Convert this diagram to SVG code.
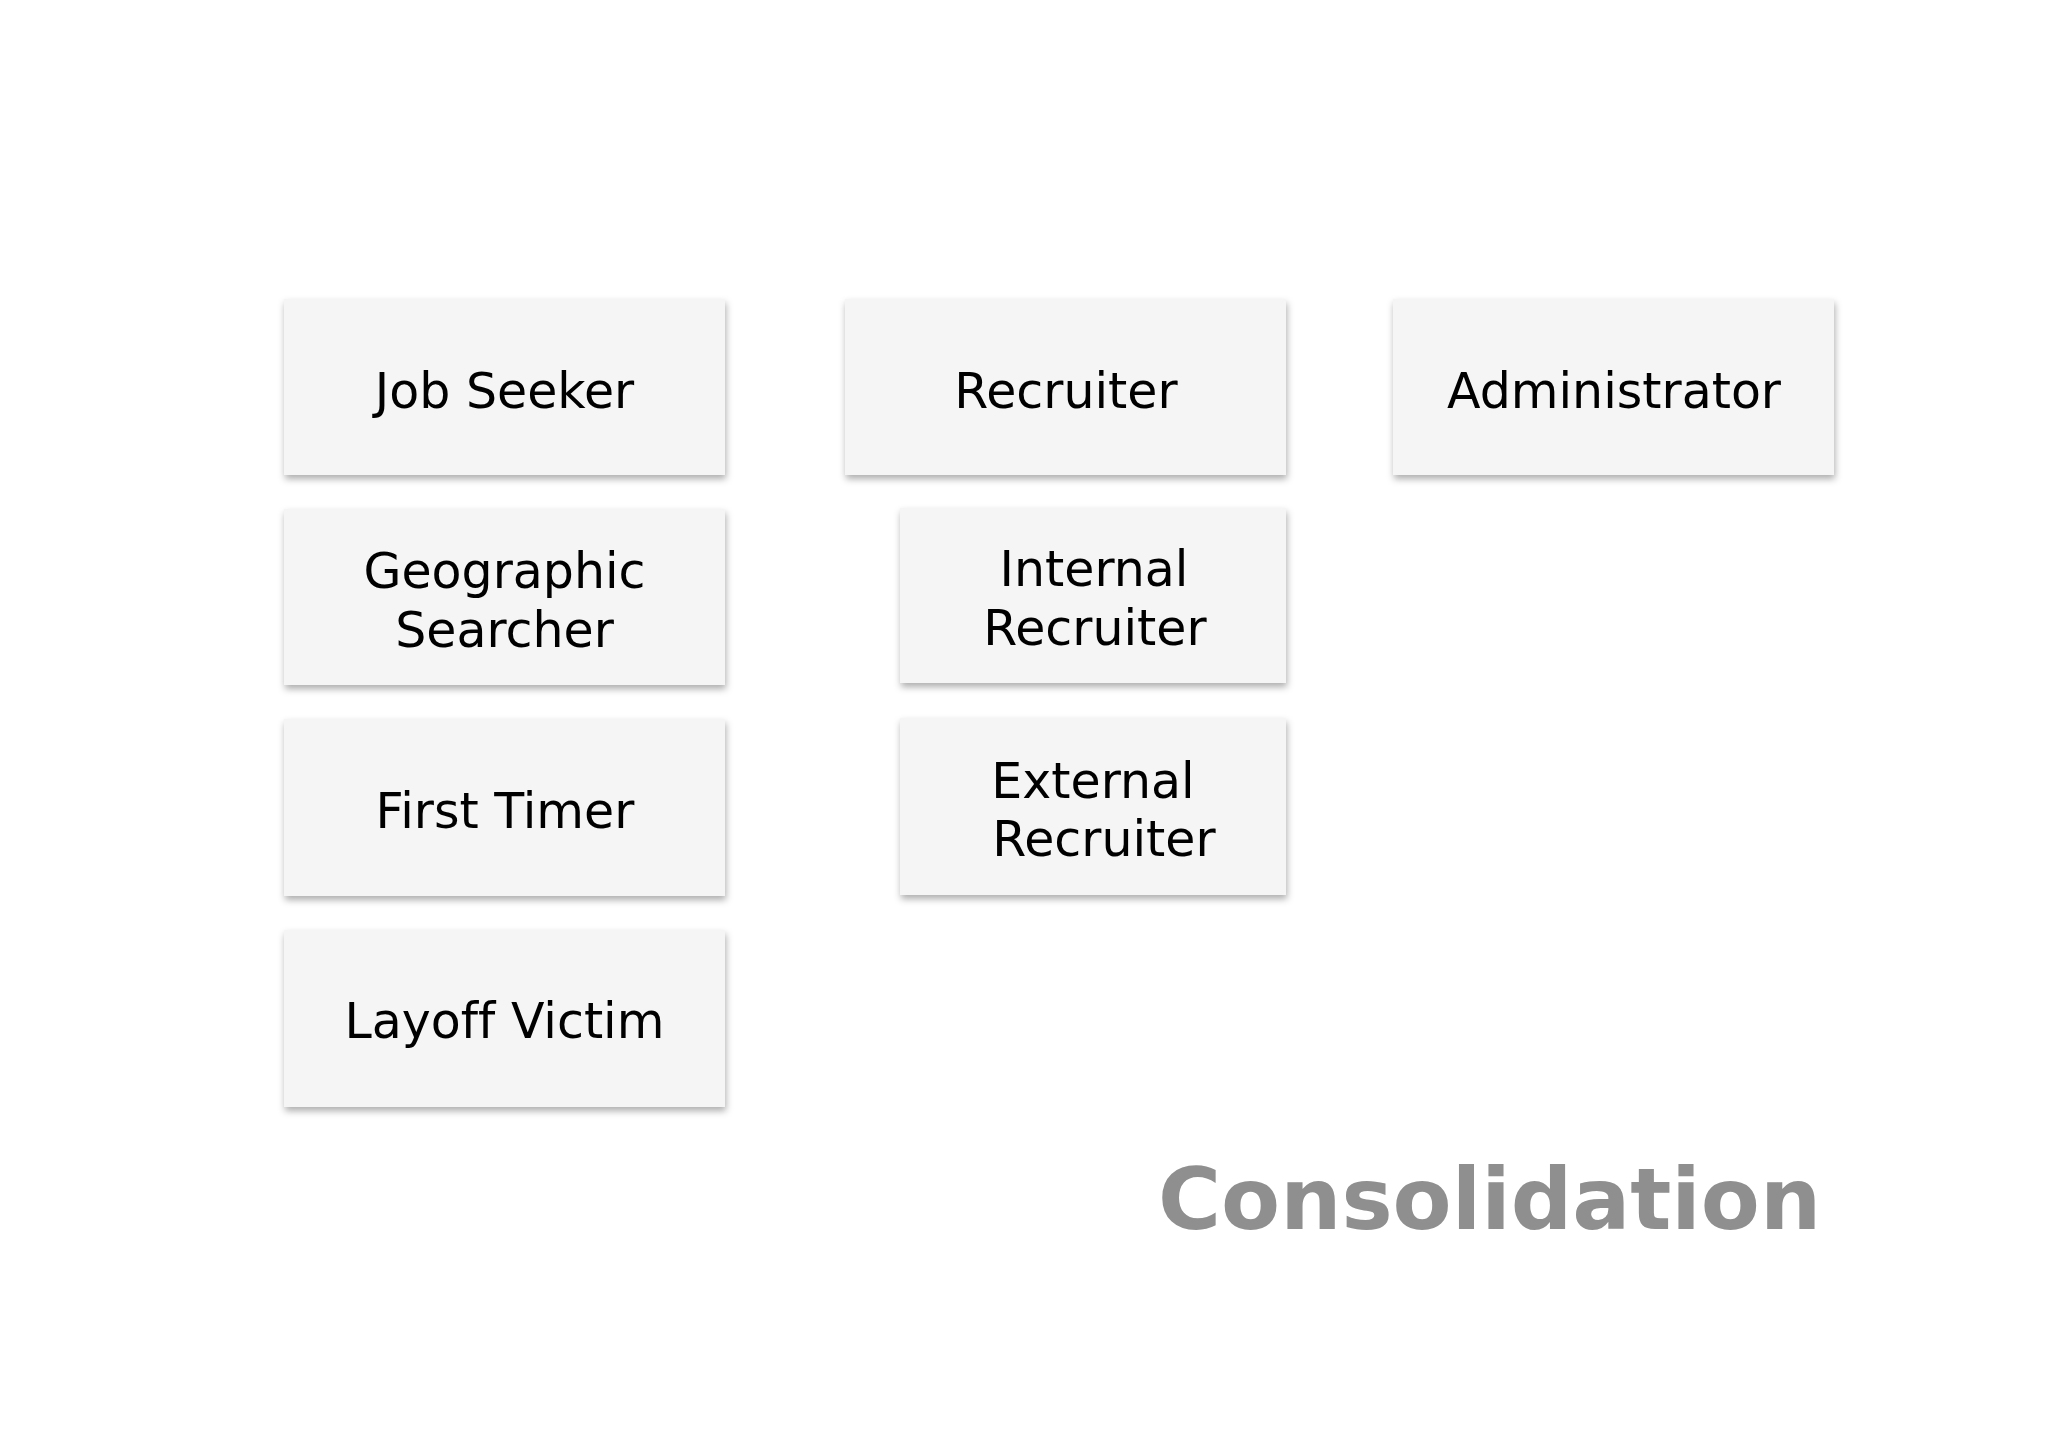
<svg xmlns="http://www.w3.org/2000/svg" width="2048" height="1447" viewBox="0 0 2048 1447">
<defs>
<filter id="sh" x="-10%" y="-10%" width="120%" height="130%">
<feDropShadow dx="1" dy="4" stdDeviation="3.5" flood-color="#000" flood-opacity="0.32"/>
</filter>
</defs>
<style>
.box{fill:#f5f5f5;filter:url(#sh)}
.lbl{font-family:"DejaVu Sans","Verdana",sans-serif;font-size:49px;fill:#000;text-anchor:middle;font-variant-ligatures:none}
.title{font-family:"DejaVu Sans","Verdana",sans-serif;font-size:86px;font-weight:bold;fill:#8f8f8f}
</style>
<rect width="2048" height="1447" fill="#fff"/>
<g id="connectors"/>
<g id="job-seeker"><rect class="box" x="284" y="299" width="441" height="176"/><text class="lbl" x="504.5" y="408">Job Seeker</text></g>
<g id="recruiter"><rect class="box" x="845" y="299" width="441" height="176"/><text class="lbl" x="1066" y="408">Recruiter</text></g>
<g id="administrator"><rect class="box" x="1393" y="299" width="441" height="176"/><text class="lbl" x="1614" y="408">Administrator</text></g>
<g id="geographic-searcher"><rect class="box" x="284" y="509" width="441" height="176"/><text class="lbl" x="504.5" y="588">Geographic</text><text class="lbl" x="504.5" y="647">Searcher</text></g>
<g id="internal-recruiter"><rect class="box" x="900" y="508" width="386" height="175"/><text class="lbl" x="1094" y="586">Internal</text><text class="lbl" x="1095" y="645">Recruiter</text></g>
<g id="first-timer"><rect class="box" x="284" y="719" width="441" height="177"/><text class="lbl" x="505" y="828">First Timer</text></g>
<g id="external-recruiter"><rect class="box" x="900" y="718" width="386" height="177"/><text class="lbl" x="1093" y="798">External</text><text class="lbl" x="1104" y="856">Recruiter</text></g>
<g id="layoff-victim"><rect class="box" x="284" y="930" width="441" height="177"/><text class="lbl" x="504.5" y="1038">Layoff Victim</text></g>
<text class="title" x="1158" y="1229">Consolidation</text>
</svg>
